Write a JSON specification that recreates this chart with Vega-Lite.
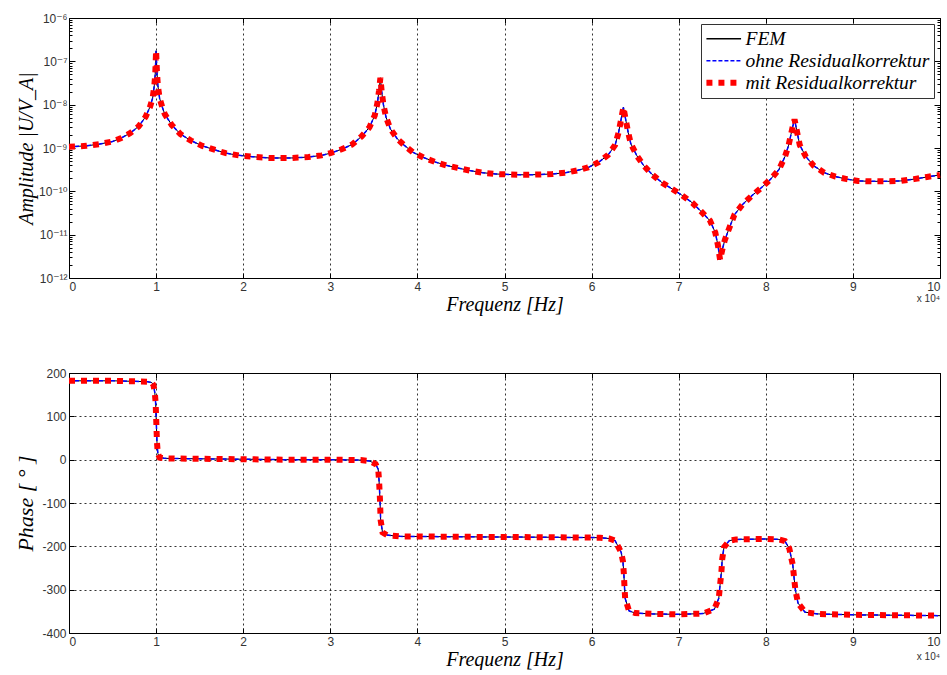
{
  "$schema": "https://vega.github.io/schema/vega-lite/v6.json",
  "background": "white",
  "padding": {"left": 14, "top": 11, "right": 4, "bottom": 0},
  "datasets": {
    "amp": [
      {"f": 0.0, "a": 1.07e-9}, {"f": 0.2, "a": 1.12e-9}, {"f": 0.35, "a": 1.23e-9}, {"f": 0.5, "a": 1.41e-9},
      {"f": 0.6, "a": 1.70e-9}, {"f": 0.7, "a": 2.19e-9}, {"f": 0.8, "a": 3.16e-9}, {"f": 0.88, "a": 5.25e-9},
      {"f": 0.93, "a": 8.91e-9}, {"f": 0.96, "a": 1.41e-8}, {"f": 0.98, "a": 2.82e-8}, {"f": 0.99, "a": 5.01e-8},
      {"f": 1.0, "a": 1.75e-7}, {"f": 1.01, "a": 5.62e-8}, {"f": 1.02, "a": 2.82e-8}, {"f": 1.04, "a": 1.41e-8},
      {"f": 1.07, "a": 8.91e-9}, {"f": 1.10, "a": 6.03e-9}, {"f": 1.18, "a": 3.39e-9}, {"f": 1.28, "a": 2.09e-9},
      {"f": 1.4, "a": 1.48e-9}, {"f": 1.53, "a": 1.12e-9}, {"f": 1.67, "a": 9.12e-10}, {"f": 1.8, "a": 7.59e-10},
      {"f": 1.95, "a": 6.76e-10}, {"f": 2.1, "a": 6.31e-10}, {"f": 2.3, "a": 5.89e-10}, {"f": 2.55, "a": 5.89e-10},
      {"f": 2.75, "a": 6.17e-10}, {"f": 2.9, "a": 6.76e-10}, {"f": 3.0, "a": 7.59e-10}, {"f": 3.13, "a": 9.33e-10},
      {"f": 3.25, "a": 1.20e-9}, {"f": 3.36, "a": 1.86e-9}, {"f": 3.45, "a": 3.02e-9}, {"f": 3.51, "a": 5.62e-9},
      {"f": 3.54, "a": 1.07e-8}, {"f": 3.56, "a": 2.14e-8}, {"f": 3.575, "a": 4.17e-8}, {"f": 3.59, "a": 2.0e-8},
      {"f": 3.61, "a": 1.0e-8}, {"f": 3.64, "a": 5.13e-9}, {"f": 3.69, "a": 2.75e-9}, {"f": 3.77, "a": 1.62e-9},
      {"f": 3.85, "a": 1.15e-9}, {"f": 3.95, "a": 7.94e-10}, {"f": 4.07, "a": 6.03e-10}, {"f": 4.2, "a": 4.79e-10},
      {"f": 4.33, "a": 3.98e-10}, {"f": 4.46, "a": 3.47e-10}, {"f": 4.6, "a": 3.02e-10}, {"f": 4.75, "a": 2.69e-10},
      {"f": 4.9, "a": 2.51e-10}, {"f": 5.05, "a": 2.45e-10}, {"f": 5.25, "a": 2.40e-10}, {"f": 5.4, "a": 2.45e-10},
      {"f": 5.55, "a": 2.51e-10}, {"f": 5.7, "a": 2.69e-10}, {"f": 5.83, "a": 3.02e-10}, {"f": 5.96, "a": 3.55e-10},
      {"f": 6.08, "a": 4.68e-10}, {"f": 6.19, "a": 6.92e-10}, {"f": 6.27, "a": 1.17e-9}, {"f": 6.31, "a": 2.29e-9},
      {"f": 6.34, "a": 4.68e-9}, {"f": 6.365, "a": 8.71e-9}, {"f": 6.39, "a": 4.68e-9}, {"f": 6.42, "a": 2.29e-9},
      {"f": 6.45, "a": 1.26e-9}, {"f": 6.52, "a": 6.61e-10}, {"f": 6.6, "a": 3.89e-10}, {"f": 6.7, "a": 2.40e-10},
      {"f": 6.81, "a": 1.58e-10}, {"f": 6.93, "a": 1.12e-10}, {"f": 7.03, "a": 8.32e-11}, {"f": 7.16, "a": 5.37e-11},
      {"f": 7.26, "a": 3.39e-11}, {"f": 7.36, "a": 2.09e-11}, {"f": 7.42, "a": 1.12e-11}, {"f": 7.45, "a": 5.75e-12},
      {"f": 7.475, "a": 2.63e-12}, {"f": 7.50, "a": 4.47e-12}, {"f": 7.53, "a": 7.59e-12}, {"f": 7.58, "a": 1.41e-11},
      {"f": 7.64, "a": 2.88e-11}, {"f": 7.73, "a": 4.90e-11}, {"f": 7.84, "a": 7.94e-11}, {"f": 7.94, "a": 1.17e-10},
      {"f": 8.05, "a": 1.86e-10}, {"f": 8.15, "a": 3.16e-10}, {"f": 8.22, "a": 6.31e-10}, {"f": 8.26, "a": 1.12e-9},
      {"f": 8.29, "a": 2.09e-9}, {"f": 8.31, "a": 3.16e-9}, {"f": 8.33, "a": 4.57e-9}, {"f": 8.36, "a": 2.29e-9},
      {"f": 8.39, "a": 1.17e-9}, {"f": 8.46, "a": 6.31e-10}, {"f": 8.55, "a": 3.89e-10}, {"f": 8.67, "a": 2.69e-10},
      {"f": 8.8, "a": 2.19e-10}, {"f": 8.93, "a": 1.91e-10}, {"f": 9.06, "a": 1.74e-10}, {"f": 9.2, "a": 1.70e-10},
      {"f": 9.4, "a": 1.70e-10}, {"f": 9.55, "a": 1.74e-10}, {"f": 9.7, "a": 1.91e-10}, {"f": 9.85, "a": 2.14e-10},
      {"f": 10.0, "a": 2.40e-10}
    ],
    "phase": [
      {"f": 0.0, "p": 182}, {"f": 0.5, "p": 182}, {"f": 0.9, "p": 180}, {"f": 0.95, "p": 178}, {"f": 0.97, "p": 172},
      {"f": 0.985, "p": 155}, {"f": 0.995, "p": 130}, {"f": 1.0, "p": 100}, {"f": 1.005, "p": 70}, {"f": 1.01, "p": 40},
      {"f": 1.02, "p": 14}, {"f": 1.04, "p": 5}, {"f": 1.1, "p": 3}, {"f": 1.5, "p": 2}, {"f": 2.0, "p": 1},
      {"f": 2.5, "p": 0}, {"f": 3.0, "p": 0}, {"f": 3.35, "p": -1}, {"f": 3.45, "p": -3}, {"f": 3.52, "p": -10},
      {"f": 3.55, "p": -22}, {"f": 3.56, "p": -49}, {"f": 3.57, "p": -90}, {"f": 3.578, "p": -140}, {"f": 3.6, "p": -168},
      {"f": 3.65, "p": -174}, {"f": 3.8, "p": -177}, {"f": 4.5, "p": -178}, {"f": 5.5, "p": -179}, {"f": 6.1, "p": -180},
      {"f": 6.2, "p": -182}, {"f": 6.27, "p": -187}, {"f": 6.34, "p": -214}, {"f": 6.36, "p": -235}, {"f": 6.37, "p": -262},
      {"f": 6.377, "p": -291}, {"f": 6.385, "p": -320}, {"f": 6.43, "p": -349}, {"f": 6.5, "p": -354}, {"f": 6.7, "p": -356},
      {"f": 7.0, "p": -357}, {"f": 7.28, "p": -355}, {"f": 7.41, "p": -345}, {"f": 7.46, "p": -320}, {"f": 7.475, "p": -289},
      {"f": 7.49, "p": -260}, {"f": 7.5, "p": -229}, {"f": 7.52, "p": -202}, {"f": 7.58, "p": -187}, {"f": 7.66, "p": -184},
      {"f": 8.0, "p": -183}, {"f": 8.15, "p": -184}, {"f": 8.22, "p": -188}, {"f": 8.27, "p": -205}, {"f": 8.31, "p": -243},
      {"f": 8.325, "p": -273}, {"f": 8.34, "p": -301}, {"f": 8.37, "p": -331}, {"f": 8.45, "p": -352}, {"f": 8.6, "p": -356},
      {"f": 9.0, "p": -358}, {"f": 9.5, "p": -359}, {"f": 10.0, "p": -360}
    ],
    "note": [{"f": 10, "t": "x 10⁴"}]
  },
  "config": {
    "view": {"stroke": "#000", "strokeWidth": 1},
    "concat": {"spacing": 51},
    "axis": {
      "labelFont": "Liberation Sans Narrow, Liberation Sans, DejaVu Sans",
      "labelFontSize": 12,
      "labelColor": "#333",
      "titleFont": "Liberation Serif",
      "titleFontStyle": "italic",
      "titleFontWeight": "normal",
      "titleFontSize": 20,
      "titleColor": "#000",
      "domain": false,
      "tickColor": "#000",
      "tickSize": -5,
      "labelPadding": 8,
      "gridColor": "#000",
      "gridDash": [2, 3],
      "gridOpacity": 0.8
    }
  },
  "vconcat": [
    {
      "width": 871,
      "height": 260,
      "resolve": {"axis": {"x": "independent", "y": "independent"}},
      "layer": [
        {
          "data": {"name": "amp"},
          "mark": {"type": "line", "strokeWidth": 1},
          "encoding": {
            "x": {"field": "f", "type": "quantitative", "scale": {"domain": [0, 10], "nice": false},
                  "axis": {"orient": "bottom", "values": [0,1,2,3,4,5,6,7,8,9,10], "format": "d", "grid": true, "title": "Frequenz [Hz]", "titlePadding": 2}},
            "y": {"field": "a", "type": "quantitative",
                  "scale": {"type": "log", "domain": [1e-12, 1e-6], "nice": false},
                  "axis": {"orient": "left", "grid": false, "title": "Amplitude |U/V_A|", "titlePadding": 2,
                           "values": [1e-12,2e-12,3e-12,4e-12,5e-12,6e-12,7e-12,8e-12,9e-12,1e-11,2e-11,3e-11,4e-11,5e-11,6e-11,7e-11,8e-11,9e-11,1e-10,2e-10,3e-10,4e-10,5e-10,6e-10,7e-10,8e-10,9e-10,1e-9,2e-9,3e-9,4e-9,5e-9,6e-9,7e-9,8e-9,9e-9,1e-8,2e-8,3e-8,4e-8,5e-8,6e-8,7e-8,8e-8,9e-8,1e-7,2e-7,3e-7,4e-7,5e-7,6e-7,7e-7,8e-7,9e-7,1e-6],
                           "labelExpr": "abs(log(datum.value)/LN10 - round(log(datum.value)/LN10)) < 0.001 ? '10' + ['','','','','','','⁻⁶','⁻⁷','⁻⁸','⁻⁹','⁻¹⁰','⁻¹¹','⁻¹²'][-round(log(datum.value)/LN10)] : ''",
                           "tickSize": {"condition": {"test": "abs(log(datum.value)/LN10 - round(log(datum.value)/LN10)) < 0.001", "value": -6}, "value": -3}}},
            "color": {"datum": "FEM", "type": "nominal",
                      "scale": {"domain": ["FEM", "ohne Residualkorrektur", "mit Residualkorrektur"], "range": ["#000000", "#0000ff", "#ff0000"]},
                      "legend": {"orient": "top-right", "offset": 6, "title": null, "fillColor": "white", "strokeColor": "#333",
                                 "padding": 4, "labelFont": "Liberation Serif", "labelFontStyle": "italic", "labelFontSize": 19.5,
                                 "labelLimit": 400, "clipHeight": 21.5, "rowPadding": 0,
                                 "labelColor": "#000", "labelOffset": 12, "symbolOffset": 9, "symbolType": "stroke", "symbolSize": 1200,
                                 "encode": {"symbols": {"update": {
                                   "strokeDash": {"signal": "datum.value === 'FEM' ? [1,0] : datum.value === 'ohne Residualkorrektur' ? [4,2] : [6,6]"},
                                   "strokeWidth": {"signal": "datum.value === 'mit Residualkorrektur' ? 6 : 1.5"}}}}}}
          }
        },
        {
          "data": {"name": "amp"},
          "mark": {"type": "line", "strokeWidth": 1.5, "strokeDash": [4, 2]},
          "encoding": {
            "x": {"field": "f", "type": "quantitative", "axis": {"orient": "top", "values": [0,1,2,3,4,5,6,7,8,9,10], "labels": false, "grid": false, "title": null}},
            "y": {"field": "a", "type": "quantitative",
                  "axis": {"orient": "right", "labels": false, "grid": false, "title": null,
                           "values": [1e-12,2e-12,3e-12,4e-12,5e-12,6e-12,7e-12,8e-12,9e-12,1e-11,2e-11,3e-11,4e-11,5e-11,6e-11,7e-11,8e-11,9e-11,1e-10,2e-10,3e-10,4e-10,5e-10,6e-10,7e-10,8e-10,9e-10,1e-9,2e-9,3e-9,4e-9,5e-9,6e-9,7e-9,8e-9,9e-9,1e-8,2e-8,3e-8,4e-8,5e-8,6e-8,7e-8,8e-8,9e-8,1e-7,2e-7,3e-7,4e-7,5e-7,6e-7,7e-7,8e-7,9e-7,1e-6],
                           "tickSize": {"condition": {"test": "abs(log(datum.value)/LN10 - round(log(datum.value)/LN10)) < 0.001", "value": -6}, "value": -3}}},
            "color": {"datum": "ohne Residualkorrektur", "type": "nominal"}
          }
        },
        {
          "data": {"name": "amp"},
          "mark": {"type": "line", "strokeWidth": 6, "strokeDash": [6, 6]},
          "encoding": {
            "x": {"field": "f", "type": "quantitative", "axis": null},
            "y": {"field": "a", "type": "quantitative", "axis": null},
            "color": {"datum": "mit Residualkorrektur", "type": "nominal"}
          }
        },
        {
          "data": {"name": "note"},
          "mark": {"type": "text", "align": "right", "baseline": "middle", "dy": 21, "fontSize": 10, "font": "Liberation Sans Narrow, Liberation Sans, DejaVu Sans", "color": "#333"},
          "encoding": {
            "x": {"field": "f", "type": "quantitative", "axis": null},
            "y": {"datum": 1e-12, "type": "quantitative", "axis": null},
            "text": {"field": "t"}
          }
        }
      ]
    },
    {
      "width": 871,
      "height": 260,
      "data": {"name": "phase"},
      "resolve": {"axis": {"x": "independent", "y": "independent"}},
      "layer": [
        {
          "mark": {"type": "line", "strokeWidth": 1, "color": "#000000"},
          "encoding": {
            "x": {"field": "f", "type": "quantitative", "scale": {"domain": [0, 10], "nice": false},
                  "axis": {"orient": "bottom", "values": [0,1,2,3,4,5,6,7,8,9,10], "format": "d", "grid": true, "title": "Frequenz [Hz]", "titlePadding": 2}},
            "y": {"field": "p", "type": "quantitative", "scale": {"domain": [-400, 200], "nice": false},
                  "axis": {"orient": "left", "values": [-400,-300,-200,-100,0,100,200], "grid": true, "title": "Phase [ ° ]", "titlePadding": 4, "titleFontSize": 22,
                           "labelExpr": "replace(datum.label, '−', '-')"}}
          }
        },
        {
          "mark": {"type": "line", "strokeWidth": 1.5, "strokeDash": [4, 2], "color": "#0000ff"},
          "encoding": {
            "x": {"field": "f", "type": "quantitative", "axis": {"orient": "top", "values": [0,1,2,3,4,5,6,7,8,9,10], "labels": false, "grid": false, "title": null}},
            "y": {"field": "p", "type": "quantitative", "axis": {"orient": "right", "values": [-400,-300,-200,-100,0,100,200], "labels": false, "grid": false, "title": null}}
          }
        },
        {
          "mark": {"type": "line", "strokeWidth": 6, "strokeDash": [6, 6], "color": "#ff0000"},
          "encoding": {
            "x": {"field": "f", "type": "quantitative", "axis": null},
            "y": {"field": "p", "type": "quantitative", "axis": null}
          }
        },
        {
          "data": {"name": "note"},
          "mark": {"type": "text", "align": "right", "baseline": "middle", "dy": 24, "fontSize": 10, "font": "Liberation Sans Narrow, Liberation Sans, DejaVu Sans", "color": "#333"},
          "encoding": {
            "x": {"field": "f", "type": "quantitative", "axis": null},
            "y": {"datum": -400, "type": "quantitative", "axis": null},
            "text": {"field": "t"}
          }
        }
      ]
    }
  ]
}
